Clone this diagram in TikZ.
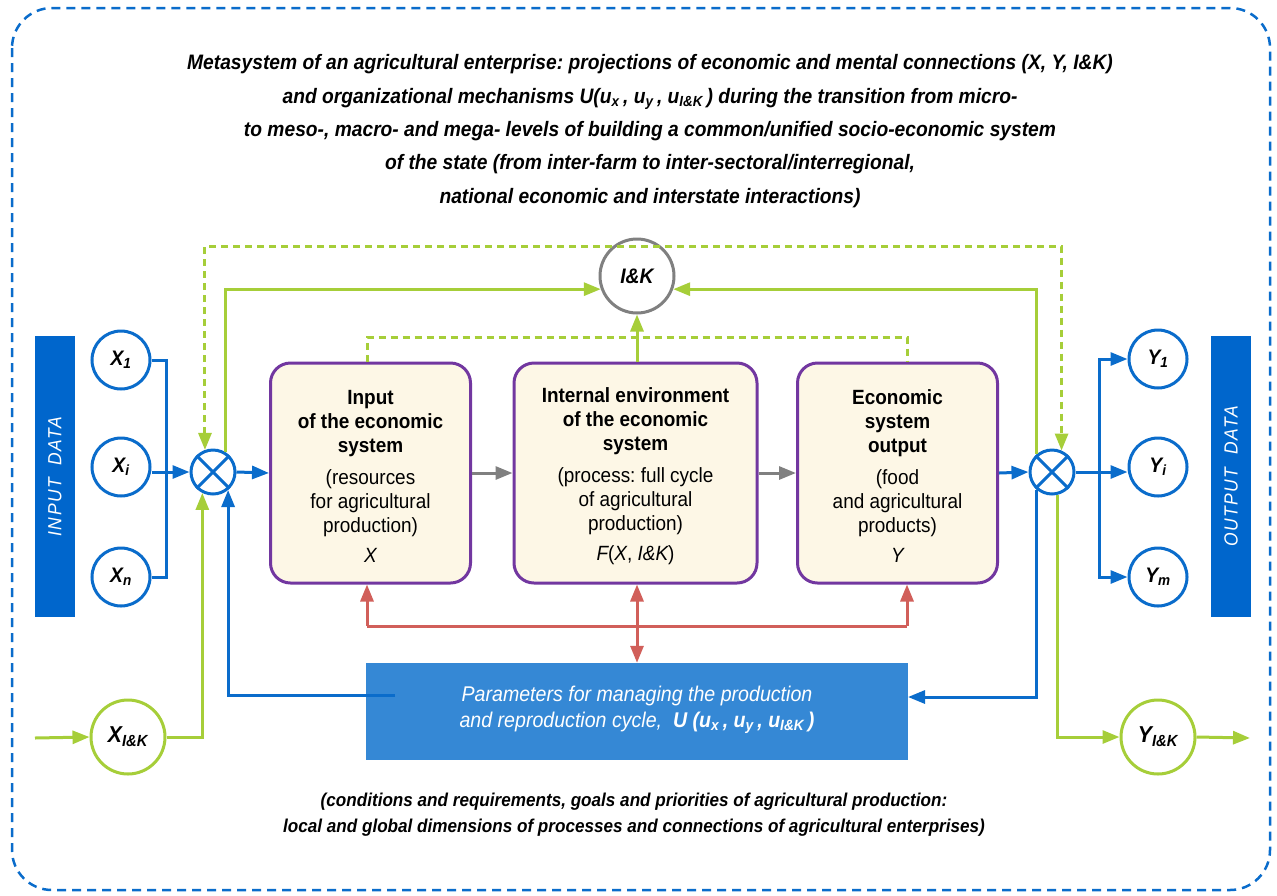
\documentclass[tikz,border=0pt]{standalone}
\usepackage{fontspec}
\setmainfont[FakeStretch=0.92]{Liberation Sans}
\usetikzlibrary{arrows.meta}
\frenchspacing
\definecolor{cblue}{HTML}{0A6CCB}
\definecolor{bar}{HTML}{0066CC}
\definecolor{pbox}{HTML}{3588D5}
\definecolor{cgreen}{HTML}{A6CE39}
\definecolor{cred}{HTML}{D15F5A}
\definecolor{cpurp}{HTML}{7237A0}
\definecolor{ccream}{HTML}{FDF7E6}
\definecolor{cgray}{HTML}{808080}
\tikzset{
  tip/.style={-{Triangle[length=17pt,width=13pt]}},
  bl/.style={draw=cblue,line width=3pt},
  gr/.style={draw=cgreen,line width=3pt},
  rd/.style={draw=cred,line width=3pt},
  gy/.style={draw=cgray,line width=3pt},
  xc/.style={circle,draw=cblue,line width=3pt,minimum size=58pt,inner sep=0pt,fill=white,
     font=\fontsize{21}{22}\selectfont\bfseries\itshape},
  gc/.style={circle,draw=cgreen,line width=3pt,minimum size=74pt,inner sep=0pt,fill=white,
     font=\fontsize{23}{24}\selectfont\bfseries\itshape},
  mix/.style={circle,draw=cblue,line width=3pt,minimum size=44pt,inner sep=0pt,fill=white},
  sbox/.style={draw=cpurp,fill=ccream,line width=3pt,rounded corners=20pt,minimum width=200pt,minimum height=220pt},
  btxt/.style={align=center,font=\fontsize{20.6}{24}\selectfont},
  databar/.style={fill=bar,minimum width=40pt,minimum height=281pt,inner sep=0pt},
  bartxt/.style={rotate=90,text=white,font=\fontsize{19}{20}\selectfont\itshape\addfontfeature{LetterSpace=8}},
  ttl/.style={align=center,font=\fontsize{20.9}{33.3}\selectfont\bfseries\itshape},
}
\begin{document}
\begin{tikzpicture}[x=1pt,y=-1pt]
\useasboundingbox (0,0) rectangle (1277,895);
% outer border
\draw[cblue,line width=2.5pt,dash pattern=on 9pt off 6pt,rounded corners=40pt] (12,8) rectangle (1270,890);
% title
\node[ttl] (title) at (650,131) {Metasystem of an agricultural enterprise: projections of economic and mental connections (X, Y, I\&K)\\
and organizational mechanisms U(u\textsubscript{x}\,, u\textsubscript{y}\,, u\textsubscript{I\&K}\,) during the transition from micro-\\
to meso-, macro- and mega- levels of building a common/unified socio-economic system\\
of the state (from inter-farm to inter-sectoral/interregional,\\
national economic and interstate interactions)};
% data bars
\node[databar] (inbar) at (55,476.5) {};
\node[bartxt] at (inbar) {INPUT\ \ DATA};
\node[databar] (outbar) at (1231,476.5) {};
\node[bartxt] at (outbar) {OUTPUT\ \ DATA};
% circles
\node[xc] (x1) at (121,360) {X\textsubscript{1}};
\node[xc] (xi) at (121,467) {X\textsubscript{i}};
\node[xc] (xn) at (121,577) {X\textsubscript{n}};
\node[xc] (y1) at (1158,359) {Y\textsubscript{1}};
\node[xc] (yi) at (1158,467) {Y\textsubscript{i}};
\node[xc] (ym) at (1158,577) {Y\textsubscript{m}};
\node[gc] (xik) at (128,737) {X\textsubscript{I\&K}};
\node[gc] (yik) at (1158,737) {Y\textsubscript{I\&K}};
\node[circle,draw=cgray,line width=3pt,minimum size=74pt,inner sep=0pt,fill=white,
  font=\fontsize{21}{22}\selectfont\bfseries\itshape] (iak) at (637,276) {I\&K};
% mixers
\node[mix] (cl) at (213,472) {};
\draw[cblue,line width=3pt] (cl.45) -- (cl.225) (cl.135) -- (cl.315);
\node[mix] (cr) at (1052,472) {};
\draw[cblue,line width=3pt] (cr.45) -- (cr.225) (cr.135) -- (cr.315);
% boxes
\node[sbox] (b1) at (370.5,473) {};
\node[btxt] at (370.5,476) {{\bfseries Input}\\{\bfseries of the economic}\\{\bfseries system}\\[8pt](resources\\for agricultural\\production)\\[6pt]\itshape X};
\node[sbox,minimum width=243pt] (b2) at (635.5,473) {};
\node[btxt] at (635.5,476) {{\bfseries Internal environment}\\{\bfseries of the economic}\\{\bfseries system}\\[8pt](process: full cycle\\of agricultural\\production)\\[6pt]\itshape F\upshape(\itshape X\upshape, \itshape I\&K\upshape)};
\node[sbox] (b3) at (897.5,473) {};
\node[btxt] at (897.5,476) {{\bfseries Economic}\\{\bfseries system}\\{\bfseries output}\\[8pt](food\\and agricultural\\products)\\[6pt]\itshape Y};
% parameter box
\node[fill=pbox,minimum width=542pt,minimum height=97pt,inner sep=0pt] (pb) at (637,711.5) {};
% coordinates
\coordinate (topd) at (0,246);
\coordinate (d1) at (367,337);
\coordinate (d3) at (907,337);
\coordinate (r1) at (367,626);
\coordinate (r3) at (907,626);
\coordinate (pin) at (395,695);
\coordinate (pr) at (908,697);
\coordinate (ob) at (1099,472);
\coordinate (gin) at (35,738);
\coordinate (gout) at (1250,738);
% input bus
\draw[bl] (x1.east) -- ++(15,0) |- (xn.east);
\draw[bl,tip] (cl.west -| xi.east) -- (cl.west);
\draw[bl,tip] (cl.east) -- (b1.west);
\draw[gy,tip] (b1.east) -- (b2.west);
\draw[gy,tip] (b2.east) -- (b3.west);
\draw[bl,tip] (b3.east) -- (cr.west);
% output bus
\draw[bl,tip] (cr.east) -- (cr.east -| yi.west);
\draw[bl,tip] (ob) |- (y1.west);
\draw[bl,tip] (ob) |- (ym.west);
% green feedback
\draw[gr,dash pattern=on 7pt off 5pt,{Triangle[length=17pt,width=13pt]}-{Triangle[length=17pt,width=13pt]}]
  (cl.110) -- (cl.110 |- topd) -- (cr.66 |- topd) -- (cr.66);
\draw[gr,tip] (cl.57) |- (iak.200);
\draw[gr,tip] (cr.130) |- (iak.340);
\draw[gr,dash pattern=on 7pt off 5pt] (d1 |- b1.north) -- (d1) -- (d3) -- (d3 |- b3.north);
\draw[gr,tip] (b2.north -| iak.south) -- (iak.south);
% red
\draw[rd,tip] (r1) -- (r1 |- b1.south);
\draw[rd] (r1) -- (r3);
\draw[rd,tip] (r3) -- (r3 |- b3.south);
\draw[rd,{Triangle[length=17pt,width=13pt]}-{Triangle[length=17pt,width=13pt]}] (b2.south -| pb.north) -- (pb.north);
% control loops
\draw[bl,tip] (pin) -| (cl.310);
\draw[bl,tip] (cr.230) |- (pr);
\draw[gr,tip] (gin) -- (xik.west);
\draw[gr,tip] (xik.east) -| (cl.243);
\draw[gr,tip] (cr.283) |- (yik.west);
\draw[gr,tip] (yik.east) -- (gout);
% parameter text
\node[align=center,text=white,font=\fontsize{21.3}{26}\selectfont\itshape] (ptxt) at (637,710)
  {Parameters for managing the production\\and reproduction cycle,\ \ {\bfseries U (u\textsubscript{x}\,, u\textsubscript{y}\,, u\textsubscript{I\&K}\,)}};
% bottom text
\node[align=center,font=\fontsize{18.6}{26}\selectfont\bfseries\itshape] (foot) at (634,815)
  {(conditions and requirements, goals and priorities of agricultural production:\\
   local and global dimensions of processes and connections of agricultural enterprises)};
\end{tikzpicture}
\end{document}
